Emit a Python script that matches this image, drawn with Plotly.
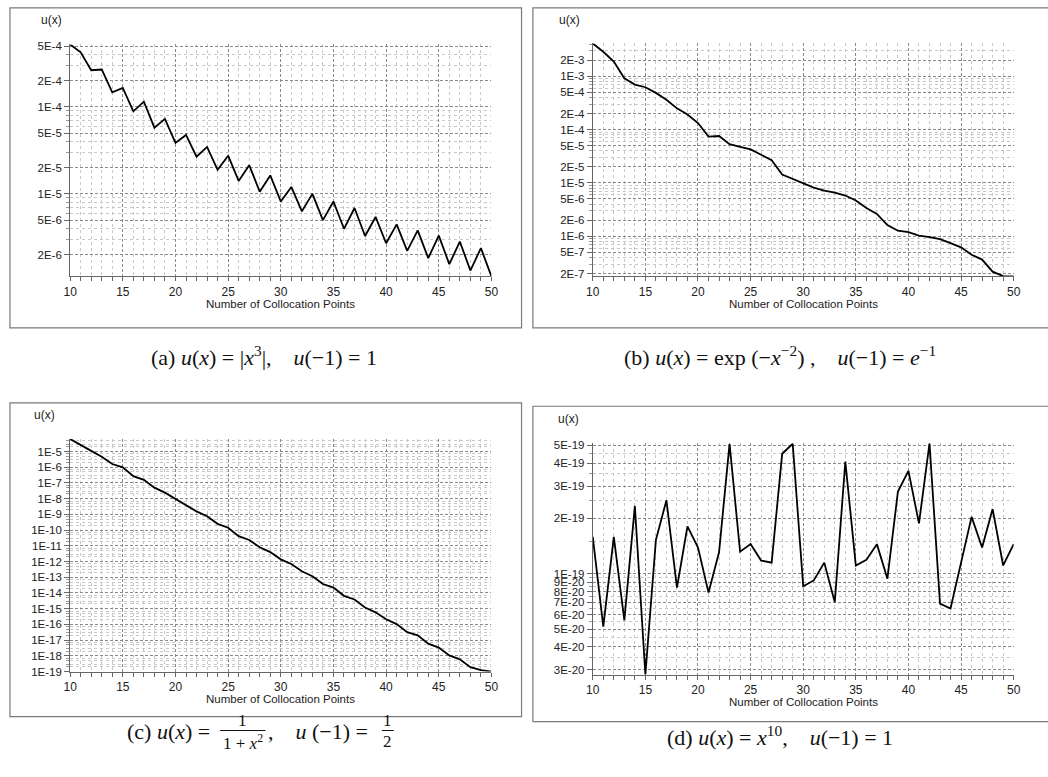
import plotly.graph_objects as go
import math

W, H = 1048, 777

# ---------------- data ----------------
n_points = list(range(10, 51))

err_a = [5.24e-4, 4.25e-4, 2.65e-4, 2.7e-4, 1.47e-4, 1.66e-4, 8.9e-5, 1.15e-4, 5.77e-5, 7.3e-5,
         3.86e-5, 4.76e-5, 2.68e-5, 3.47e-5, 1.89e-5, 2.75e-5, 1.41e-5, 2.14e-5, 1.06e-5, 1.63e-5,
         8.17e-6, 1.2e-5, 6.3e-6, 1.0e-5, 4.98e-6, 8.17e-6, 3.96e-6, 6.87e-6, 3.27e-6, 5.42e-6,
         2.7e-6, 4.45e-6, 2.21e-6, 3.8e-6, 1.82e-6, 3.3e-6, 1.55e-6, 2.82e-6, 1.31e-6, 2.37e-6,
         1.12e-6]

err_b = [4.14e-3, 2.9e-3, 1.9e-3, 9.2e-4, 7.0e-4, 6.25e-4, 4.9e-4, 3.64e-4, 2.51e-4, 1.92e-4,
         1.33e-4, 7.4e-5, 7.6e-5, 5.35e-5, 4.77e-5, 4.27e-5, 3.39e-5, 2.67e-5, 1.44e-5, 1.2e-5,
         9.7e-6, 8.2e-6, 7.2e-6, 6.6e-6, 5.8e-6, 4.7e-6, 3.39e-6, 2.63e-6, 1.62e-6, 1.27e-6,
         1.19e-6, 1.03e-6, 9.6e-7, 8.8e-7, 7.4e-7, 6.2e-7, 4.5e-7, 3.65e-7, 2.16e-7, 1.79e-7,
         1.76e-7]

log_err_c = [-4.205, -4.603, -4.96, -5.335, -5.795, -6.004, -6.57, -6.80, -7.30, -7.615,
             -8.03, -8.39, -8.81, -9.12, -9.60, -9.85, -10.38, -10.63, -11.09, -11.40,
             -11.86, -12.15, -12.62, -12.93, -13.43, -13.66, -14.18, -14.41, -14.92, -15.23,
             -15.67, -15.98, -16.49, -16.69, -17.22, -17.47, -17.97, -18.22, -18.72, -18.91,
             -19.0]
err_c = [10 ** v for v in log_err_c]

err_d = [1.59e-19, 5.16e-20, 1.59e-19, 5.58e-20, 2.34e-19, 2.83e-20, 1.53e-19, 2.51e-19, 8.4e-20, 1.81e-19,
         1.39e-19, 7.9e-20, 1.31e-19, 5.09e-19, 1.32e-19, 1.45e-19, 1.18e-19, 1.15e-19, 4.5e-19, 5.1e-19,
         8.55e-20, 9.2e-20, 1.15e-19, 7.0e-20, 4.08e-19, 1.11e-19, 1.19e-19, 1.45e-19, 9.4e-20, 2.8e-19,
         3.63e-19, 1.88e-19, 5.13e-19, 6.88e-20, 6.47e-20, 1.15e-19, 2.04e-19, 1.39e-19, 2.25e-19, 1.11e-19,
         1.45e-19]

x_ticks = [10, 15, 20, 25, 30, 35, 40, 45, 50]

yt_a = [5e-4, 2e-4, 1e-4, 5e-5, 2e-5, 1e-5, 5e-6, 2e-6]
yl_a = ["5E-4", "2E-4", "1E-4", "5E-5", "2E-5", "1E-5", "5E-6", "2E-6"]

yt_b = [2e-3, 1e-3, 5e-4, 2e-4, 1e-4, 5e-5, 2e-5, 1e-5, 5e-6, 2e-6, 1e-6, 5e-7, 2e-7]
yl_b = ["2E-3", "1E-3", "5E-4", "2E-4", "1E-4", "5E-5", "2E-5", "1E-5", "5E-6", "2E-6", "1E-6", "5E-7", "2E-7"]

yt_c = [10.0 ** e for e in range(-5, -20, -1)]
yl_c = ["1E%d" % e for e in range(-5, -20, -1)]

yt_d = [5e-19, 4e-19, 3e-19, 2e-19, 1e-19, 9e-20, 8e-20, 7e-20, 6e-20, 5e-20, 4e-20, 3e-20]
yl_d = ["5E-19", "4E-19", "3E-19", "2E-19", "1E-19", "9E-20", "8E-20", "7E-20", "6E-20", "5E-20", "4E-20", "3E-20"]

x_title = "Number of Collocation Points"
y_title = "u(x)"

# ---------------- helpers ----------------
def px(x):
    return x / W


def py(y):
    return 1 - y / H


def decade_minors(lo, hi, mults):
    vals = []
    for e in range(int(math.floor(math.log10(lo))) - 1, int(math.ceil(math.log10(hi))) + 1):
        for m in mults:
            v = m * 10.0 ** e
            if lo * 0.999 <= v <= hi * 1.001:
                vals.append(v)
    return vals


SANS = "Liberation Sans, Arial, sans-serif"
TICKFONT = dict(family=SANS, size=11.5, color="#222")
MAJ_GRID = "#8a8a8a"
MIN_GRID = "#c8c8c8"
AXCOL = "#666"

fig = go.Figure()

panels = [
    (err_a, yt_a, yl_a, (64, 491), (41, 276), [1, 2, 3, 4, 5, 6, 7, 8, 9]),
    (err_b, yt_b, yl_b, (593.7, 1020.3), (40, 276), [1, 2, 3, 4, 5, 6, 7, 8, 9]),
    (err_c, yt_c, yl_c, (64, 491), (440.7, 676.3), [2, 3, 5, 7]),
    (err_d, yt_d, yl_d, (593.7, 1020.3), (445, 679.3), [1, 1.5, 2, 2.5, 3, 3.5, 4, 4.5, 5, 5.5, 6, 6.5, 7, 7.5, 8, 8.5, 9, 9.5]),
]

ann = []

for i, (vals, ytv, ytl, xd, yd, mults) in enumerate(panels):
    k = "" if i == 0 else str(i + 1)
    fig.add_trace(go.Scatter(
        x=n_points, y=vals, mode="lines",
        line=dict(color="black", width=1.8),
        xaxis="x" + k, yaxis="y" + k, showlegend=False, hoverinfo="x+y",
    ))
    lo, hi = min(vals), max(vals)
    if i == 2:
        lo = 1e-19
    minor_vals = [v for v in decade_minors(lo, hi, mults) if all(abs(v / t - 1) > 1e-6 for t in ytv)]
    fig.update_layout(**{
        "xaxis" + k: dict(
            domain=[px(xd[0]), px(xd[1])], range=[10, 50], anchor="y" + k,
            tickmode="array", tickvals=x_ticks, ticktext=[str(t) for t in x_ticks],
            ticks="outside", ticklen=4, tickcolor=AXCOL, tickfont=dict(TICKFONT, size=12),
            showline=True, linecolor=AXCOL, linewidth=1,
            showgrid=True, gridcolor=MAJ_GRID, griddash="3px,2px", gridwidth=1,
            minor=dict(tickmode="array", tickvals=[v for v in n_points if v not in x_ticks],
                       ticks="outside", ticklen=4, tickcolor=AXCOL,
                       showgrid=True, gridcolor=MIN_GRID, griddash="dot", gridwidth=1),
            zeroline=False, fixedrange=True,
        ),
        "yaxis" + k: dict(
            domain=[py(yd[1]), py(yd[0])], type="log",
            range=[math.log10(lo), math.log10(hi)], anchor="x" + k,
            tickmode="array", tickvals=ytv, ticktext=ytl,
            ticks="outside", ticklen=5, tickcolor=AXCOL, tickfont=TICKFONT,
            showline=True, linecolor=AXCOL, linewidth=1,
            showgrid=True, gridcolor=MAJ_GRID, griddash="3px,2px", gridwidth=1,
            minor=dict(tickmode="array", tickvals=minor_vals,
                       ticks="outside", ticklen=3, tickcolor="#999",
                       showgrid=True, gridcolor=MIN_GRID, griddash="dot", gridwidth=1),
            zeroline=False, fixedrange=True,
        ),
    })
    # x-axis title
    ann.append(dict(text=x_title, x=px((xd[0] + xd[1]) / 2), y=py(yd[1] + 28), xref="paper", yref="paper",
                    xanchor="center", yanchor="middle", showarrow=False,
                    font=dict(family=SANS, size=11.5, color="#222")))

# panel boxes
boxes = [(3, 4, 521.5, 328), (533, 4, 1100, 328), (3, 404, 521.5, 722), (533, 407.5, 1100, 727)]
shapes = []
for (x0, y0, x1, y1) in boxes:
    shapes.append(dict(type="rect", xref="paper", yref="paper",
                       x0=px(x0), x1=px(x1), y0=py(y1), y1=py(y0),
                       line=dict(color="#7a7a7a", width=1.2), fillcolor="rgba(0,0,0,0)", layer="below"))

for (x, y) in [(45, 16), (570, 16), (38, 416), (569, 420)]:
    ann.append(dict(text=y_title, x=px(x), y=py(y), xref="paper", yref="paper",
                    xanchor="center", yanchor="middle",
                    showarrow=False, font=dict(family=SANS, size=12, color="#222")))

CAP = dict(family="Liberation Serif, Times New Roman, serif", size=22, color="#111")
sp = "\u00a0"


def cap(text, x, y, xa="center", size=None):
    f = CAP if size is None else dict(CAP, size=size)
    ann.append(dict(text=text, x=px(x), y=py(y), xref="paper", yref="paper",
                    xanchor=xa, yanchor="middle", showarrow=False, font=f))


eq = sp + "=" + sp
gap = "," + sp * 4
cap("(a) <i>u</i>(<i>x</i>)" + eq + "|<i>x</i><sup>3</sup>|" + gap + "<i>u</i>(−1)" + eq + "1", 260, 357)
cap("(b) <i>u</i>(<i>x</i>)" + eq + "exp" + sp + "(−<i>x</i><sup>−2</sup>)" + sp + gap
    + "<i>u</i>(−1)" + eq + "<i>e</i><sup>−1</sup>", 783, 357)
cap("(d) <i>u</i>(<i>x</i>)" + eq + "<i>x</i><sup>10</sup>" + gap + "<i>u</i>(−1)" + eq + "1", 783, 742)

# (c) with stacked fractions
cap("(c) <i>u</i>(<i>x</i>)" + eq, 214, 737, xa="right")
cap("1", 239, 726, size=17)
cap("1 + <i>x</i><sup>2</sup>", 239, 748, size=17)
shapes.append(dict(type="line", xref="paper", yref="paper", x0=px(216), x1=px(262), y0=py(736), y1=py(736),
                   line=dict(color="#111", width=1)))
cap(gap + "<i>u</i>" + sp + "(−1)" + eq, 263, 737, xa="left")
cap("1", 386, 726, size=17)
cap("2", 386, 747, size=17)
shapes.append(dict(type="line", xref="paper", yref="paper", x0=px(380), x1=px(392), y0=py(736), y1=py(736),
                   line=dict(color="#111", width=1)))

fig.update_layout(
    width=W, height=H, margin=dict(l=0, r=0, t=0, b=0),
    paper_bgcolor="white", plot_bgcolor="white",
    shapes=shapes, annotations=ann, showlegend=False,
)

fig.write_html("out.html", config={"displayModeBar": False},
               post_script="document.body.style.margin='0';document.body.style.overflow='hidden';")
